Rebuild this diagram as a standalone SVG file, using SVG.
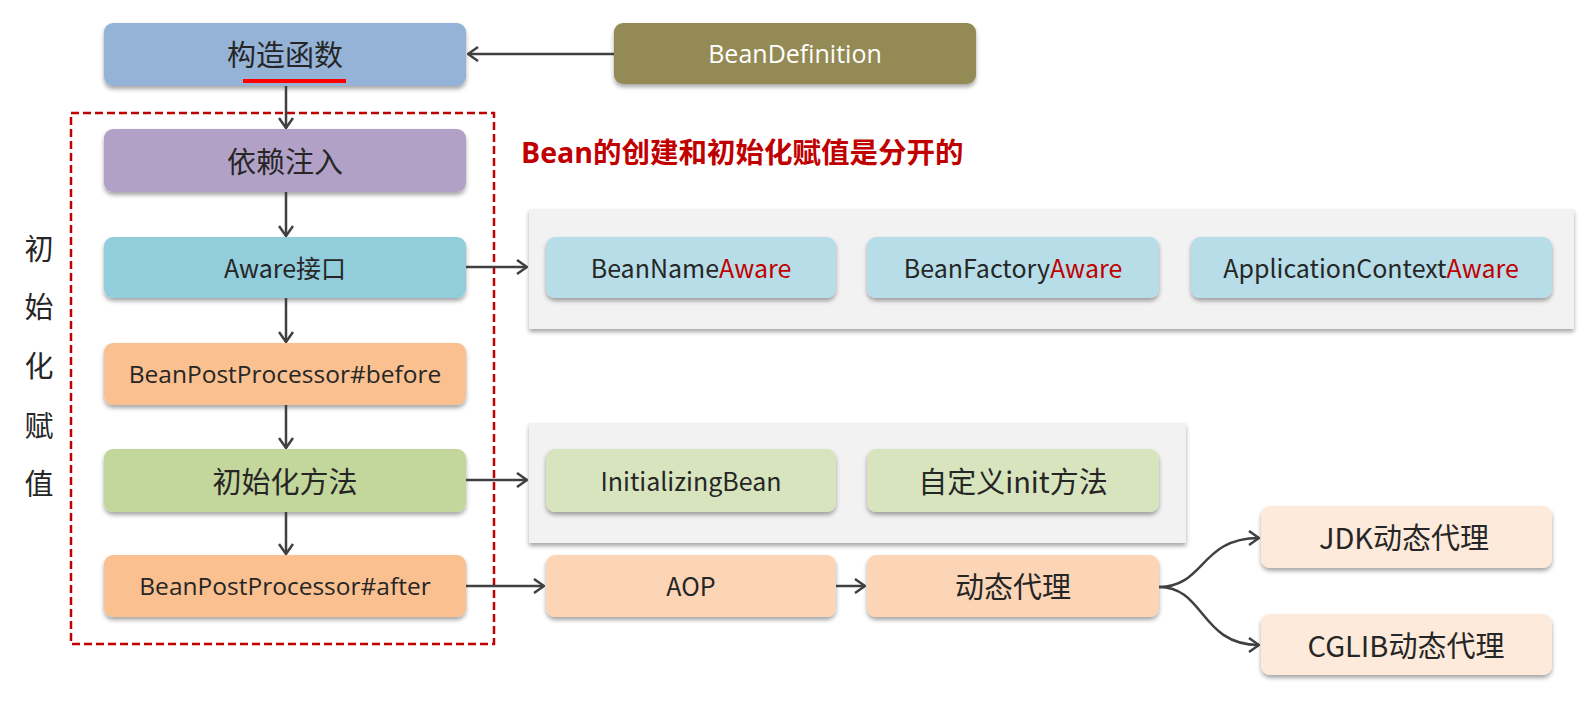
<svg xmlns="http://www.w3.org/2000/svg" width="1585" height="701" viewBox="0 0 1585 701">
<style>
.t{font-family:"Open Sans","Noto Sans CJK SC",sans-serif;fill:#262626;text-anchor:middle;dominant-baseline:central}
.c{font-family:"Noto Sans CJK SC",sans-serif;fill:#262626;text-anchor:middle;dominant-baseline:central;font-size:29px}
.n{font-family:"Noto Sans CJK SC","Open Sans",sans-serif;fill:#262626;text-anchor:middle;dominant-baseline:central;font-size:25px}
.red{fill:#C00000}
.box{filter:url(#sh)}
.ln{stroke:#404040;stroke-width:2.5;fill:none;marker-end:url(#ah)}
</style>
<defs>
<filter id="sh" x="-10%" y="-20%" width="120%" height="150%">
<feDropShadow dx="0" dy="3" stdDeviation="2" flood-color="#000" flood-opacity="0.35"/>
</filter>
<marker id="ah" viewBox="0 0 12 16" refX="11" refY="8" markerWidth="12" markerHeight="16" markerUnits="userSpaceOnUse" orient="auto">
<path d="M1,1 L11,8 L1,15" fill="none" stroke="#404040" stroke-width="2.5"/>
</marker>
</defs>
<rect width="1585" height="701" fill="#fff"/>

<g id="panel-aware"><rect class="box" x="529" y="209" width="1045" height="120" fill="#F2F2F2"/></g>
<g id="panel-init"><rect class="box" x="529" y="423" width="657" height="120" fill="#F2F2F2"/></g>

<g id="init-region">
<rect x="71" y="113" width="423" height="531" fill="none" stroke="#C00000" stroke-width="2.5" stroke-dasharray="8 4"/>
<text class="c" x="39" y="247" font-size="28">初</text>
<text class="c" x="39" y="305" font-size="28">始</text>
<text class="c" x="39" y="364" font-size="28">化</text>
<text class="c" x="39" y="424" font-size="28">赋</text>
<text class="c" x="39" y="482" font-size="28">值</text>
</g>

<g id="title"><text x="521" y="152" font-family="'Open Sans','Noto Sans CJK SC',sans-serif" font-weight="bold" font-size="28.5" fill="#C00000" dominant-baseline="central">Bean的创建和初始化赋值是分开的</text></g>

<g id="constructor"><rect class="box" x="104" y="23" width="362" height="63" rx="9" fill="#95B3D7"/><text class="c" x="285" y="53">构造函数</text>
<line x1="243" y1="81" x2="346" y2="81" stroke="#FF0000" stroke-width="4"/></g>
<g id="beandefinition"><rect class="box" x="614" y="23" width="362" height="61" rx="9" fill="#948A54"/><text class="t" x="795" y="53" font-size="25" style="fill:#fff">BeanDefinition</text></g>
<g id="di"><rect class="box" x="104" y="129" width="362" height="63" rx="9" fill="#B2A1C7"/><text class="c" x="285" y="160">依赖注入</text></g>
<g id="aware"><rect class="box" x="104" y="237" width="362" height="61" rx="9" fill="#92CDDC"/><text class="n" x="285" y="267">Aware接口</text></g>
<g id="bpp-before"><rect class="box" x="104" y="343" width="362" height="62" rx="9" fill="#FAC090"/><text class="t" x="285" y="373" font-size="24.5">BeanPostProcessor#before</text></g>
<g id="init-method"><rect class="box" x="104" y="449" width="362" height="63" rx="9" fill="#C3D69B"/><text class="c" x="285" y="480">初始化方法</text></g>
<g id="bpp-after"><rect class="box" x="104" y="555" width="362" height="62" rx="9" fill="#FAC090"/><text class="t" x="285" y="585" font-size="24.5">BeanPostProcessor#after</text></g>

<g id="beannameaware"><rect class="box" x="546" y="237" width="290" height="61" rx="9" fill="#B7DEE8"/><text class="n" x="691" y="267">BeanName<tspan class="red">Aware</tspan></text></g>
<g id="beanfactoryaware"><rect class="box" x="867" y="237" width="292" height="61" rx="9" fill="#B7DEE8"/><text class="n" x="1013" y="267">BeanFactory<tspan class="red">Aware</tspan></text></g>
<g id="appctxaware"><rect class="box" x="1191" y="237" width="361" height="61" rx="9" fill="#B7DEE8"/><text class="n" x="1371" y="267">ApplicationContext<tspan class="red">Aware</tspan></text></g>

<g id="initializingbean"><rect class="box" x="546" y="449" width="290" height="63" rx="9" fill="#D7E4BD"/><text class="n" x="691" y="480" font-size="24.3">InitializingBean</text></g>
<g id="custom-init"><rect class="box" x="867" y="449" width="292" height="63" rx="9" fill="#D7E4BD"/><text class="c" x="1013" y="480" font-size="28.4">自定义init方法</text></g>

<g id="aop"><rect class="box" x="546" y="555" width="290" height="62" rx="9" fill="#FBD5B5"/><text class="n" x="691" y="585">AOP</text></g>
<g id="dynamic-proxy"><rect class="box" x="867" y="555" width="292" height="62" rx="9" fill="#FBD5B5"/><text class="c" x="1013" y="585">动态代理</text></g>
<g id="jdk"><rect class="box" x="1261" y="506" width="291" height="62" rx="9" fill="#FDEADA"/><text class="c" x="1404" y="536" font-size="28">JDK动态代理</text></g>
<g id="cglib"><rect class="box" x="1261" y="614" width="291" height="61" rx="9" fill="#FDEADA"/><text class="c" x="1406" y="644" font-size="28">CGLIB动态代理</text></g>

<g id="connectors">
<line class="ln" x1="614" y1="54" x2="468" y2="54"/>
<line class="ln" x1="286" y1="86" x2="286" y2="128"/>
<line class="ln" x1="286" y1="192" x2="286" y2="236"/>
<line class="ln" x1="286" y1="298" x2="286" y2="342"/>
<line class="ln" x1="286" y1="405" x2="286" y2="448"/>
<line class="ln" x1="286" y1="512" x2="286" y2="554"/>
<line class="ln" x1="466" y1="267" x2="527" y2="267"/>
<line class="ln" x1="466" y1="480" x2="527" y2="480"/>
<line class="ln" x1="466" y1="586" x2="544" y2="586"/>
<line class="ln" x1="836" y1="586" x2="865" y2="586"/>
<path class="ln" d="M1159,587 C1205,587 1200,538 1259,538"/>
<path class="ln" d="M1159,587 C1205,587 1200,645 1259,645"/>
</g>
</svg>
